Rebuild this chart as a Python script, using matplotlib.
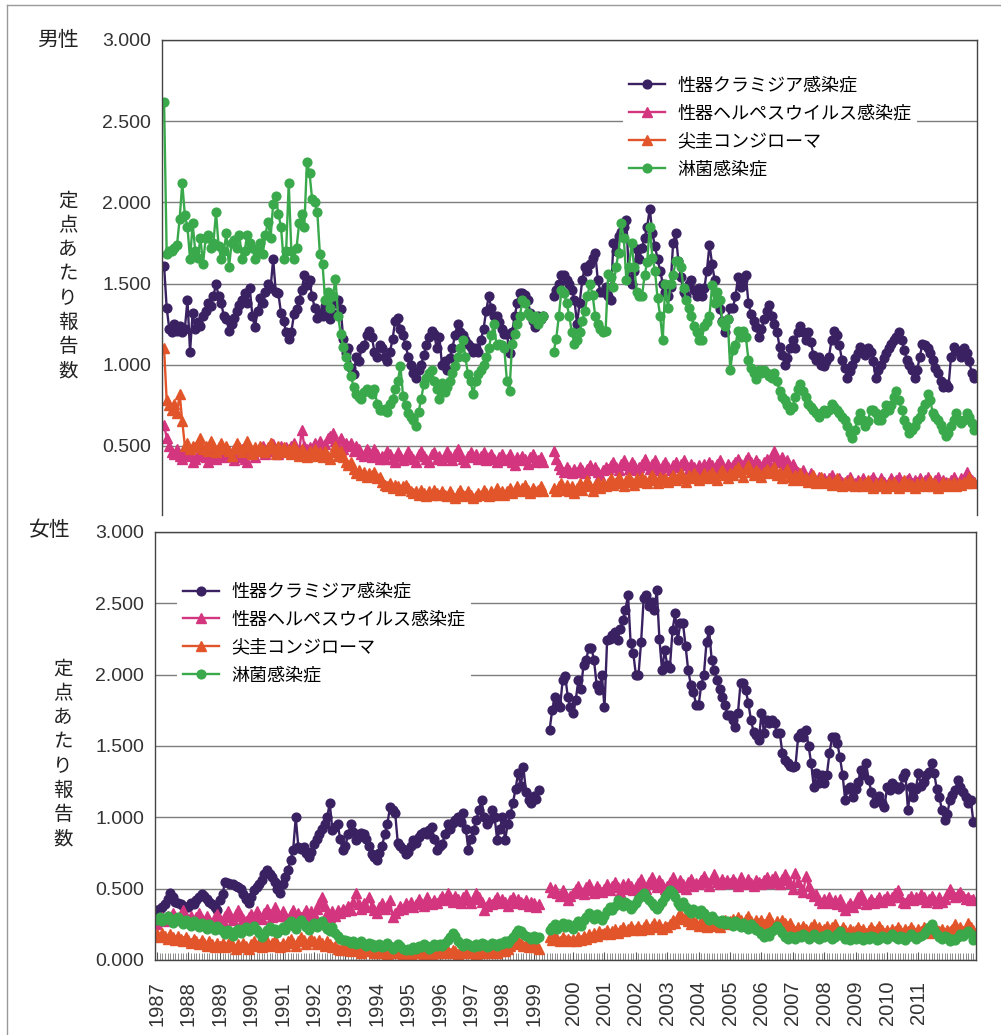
import numpy as np
import matplotlib
matplotlib.use('Agg')
import matplotlib.pyplot as plt
from matplotlib.lines import Line2D
from matplotlib.font_manager import FontProperties

JP = ['Noto Sans CJK JP', 'DejaVu Sans']
NUM = 'Liberation Sans'

# monthly reports per sentinel site
# *_old: Jan 1987 - Mar 1999 (old surveillance), *_new: Apr 1999 - Oct 2012

# ---- men ----
male_chlamydia_old = [
    1.61, 1.35, 1.22, 1.20, 1.25, 1.21, 1.24, 1.20, 1.22, 1.40, 1.08, 1.32,
    1.22, 1.26, 1.24, 1.30, 1.33, 1.38, 1.36, 1.42, 1.50, 1.42, 1.38, 1.30,
    1.28, 1.21, 1.25, 1.29, 1.33, 1.37, 1.40, 1.44, 1.38, 1.47, 1.30, 1.23,
    1.33, 1.41, 1.38, 1.45, 1.50, 1.47, 1.65, 1.45, 1.44, 1.32, 1.27, 1.20,
    1.16, 1.20, 1.31, 1.34, 1.40, 1.46, 1.55, 1.49, 1.52, 1.42, 1.35, 1.29,
    1.32, 1.30, 1.36, 1.30, 1.28, 1.31, 1.38, 1.40, 1.34, 1.16, 1.07, 1.10,
    0.98, 0.94, 1.05, 1.02, 1.10, 1.12, 1.18, 1.21, 1.17, 1.08, 1.05, 1.12,
    1.10, 1.05, 1.02, 1.08, 1.16, 1.27, 1.29, 1.22, 1.18, 1.12, 1.05, 1.00,
    0.95, 0.92, 0.97, 1.00, 1.06, 1.12, 1.17, 1.21, 1.19, 1.10, 1.17, 1.00,
    1.02, 0.97, 1.04, 1.10, 1.18, 1.25, 1.20, 1.18, 1.15, 1.13, 1.11, 1.08,
    1.10, 1.08, 1.15, 1.22, 1.33, 1.42, 1.35, 1.30, 1.30, 1.26, 1.22, 1.19,
    1.19, 1.07, 1.20, 1.30, 1.38, 1.44, 1.44, 1.43, 1.40, 1.32, 1.27, 1.23,
    1.30, 1.28, 1.30,
]
male_chlamydia_new = [
    1.42, 1.46, 1.50, 1.55, 1.55, 1.52, 1.50, 1.46, 1.40,
    1.25, 1.38, 1.52, 1.60, 1.58, 1.62, 1.66, 1.69, 1.52, 1.45, 1.45, 1.48,
    1.42, 1.40, 1.75, 1.70, 1.79, 1.82, 1.85, 1.89, 1.53, 1.50, 1.58, 1.71,
    1.65, 1.72, 1.78, 1.85, 1.96, 1.81, 1.73, 1.65, 1.58, 1.50, 1.45, 1.42,
    1.48, 1.75, 1.81, 1.64, 1.54, 1.45, 1.42, 1.50, 1.52, 1.46, 1.42, 1.47,
    1.42, 1.47, 1.58, 1.74, 1.62, 1.52, 1.39, 1.34, 1.27, 1.20, 1.28, 1.35,
    1.35, 1.42, 1.54, 1.48, 1.52, 1.55, 1.38, 1.31, 1.27, 1.23, 1.17, 1.22,
    1.28, 1.33, 1.37, 1.30, 1.25, 1.20, 1.11, 1.06, 1.00, 1.04, 1.10, 1.15,
    1.10, 1.20, 1.24, 1.20, 1.15, 1.20, 1.14, 1.06, 1.03, 1.05, 1.00, 0.99,
    1.02, 1.05, 1.15, 1.21, 1.18, 1.12, 1.03, 0.98, 0.92, 0.96, 1.00, 1.04,
    1.07, 1.11, 1.09, 1.06, 1.10, 1.08, 1.02, 0.92, 0.97, 1.00, 1.04, 1.07,
    1.10, 1.13, 1.15, 1.17, 1.20, 1.15, 1.09, 1.03, 1.00, 0.97, 0.92, 0.97,
    1.05, 1.13, 1.12, 1.10, 1.07, 1.03, 0.98, 0.95, 0.90, 0.86, 0.88, 0.86,
    1.05, 1.11, 1.09, 1.08, 1.05, 1.10, 1.07, 1.02, 0.95, 0.92,
]
male_herpes_old = [
    0.63, 0.55, 0.50, 0.46, 0.45, 0.48, 0.44, 0.42, 0.47, 0.44, 0.45, 0.40,
    0.42, 0.44, 0.47, 0.45, 0.43, 0.40, 0.44, 0.46, 0.42, 0.45, 0.44, 0.43,
    0.45, 0.47, 0.44, 0.41, 0.43, 0.45, 0.48, 0.42, 0.40, 0.46, 0.45, 0.43,
    0.47, 0.48, 0.50, 0.45, 0.47, 0.52, 0.51, 0.48, 0.45, 0.50, 0.47, 0.49,
    0.48, 0.50, 0.52, 0.47, 0.46, 0.60, 0.50, 0.48, 0.49, 0.47, 0.52, 0.50,
    0.53, 0.47, 0.51, 0.55, 0.56, 0.58, 0.53, 0.50, 0.55, 0.48, 0.52, 0.50,
    0.52, 0.47, 0.50, 0.48, 0.45, 0.44, 0.48, 0.46, 0.43, 0.48, 0.45, 0.42,
    0.44, 0.42, 0.47, 0.45, 0.42, 0.40, 0.46, 0.44, 0.41, 0.43, 0.47, 0.44,
    0.42, 0.40, 0.45, 0.47, 0.44, 0.42, 0.40, 0.45, 0.46, 0.42, 0.44, 0.41,
    0.43, 0.47, 0.44, 0.41, 0.45, 0.48, 0.44, 0.42, 0.40, 0.44, 0.46, 0.43,
    0.45, 0.42, 0.44, 0.46, 0.41, 0.43, 0.45, 0.42, 0.40, 0.43, 0.45, 0.41,
    0.42, 0.45, 0.40, 0.38, 0.43, 0.41, 0.44, 0.42, 0.39, 0.43, 0.45, 0.40,
    0.41, 0.43, 0.40,
]
male_herpes_new = [
    0.47, 0.42, 0.38, 0.36, 0.34, 0.37, 0.35, 0.33, 0.36,
    0.34, 0.37, 0.35, 0.33, 0.36, 0.38, 0.35, 0.37, 0.34, 0.32, 0.35, 0.37,
    0.36, 0.38, 0.40, 0.37, 0.35, 0.39, 0.41, 0.38, 0.36, 0.40, 0.38, 0.35,
    0.37, 0.39, 0.42, 0.38, 0.36, 0.39, 0.41, 0.37, 0.35, 0.38, 0.40, 0.37,
    0.35, 0.38, 0.40, 0.37, 0.39, 0.41, 0.38, 0.36, 0.39, 0.37, 0.35, 0.38,
    0.36, 0.39, 0.37, 0.40, 0.38, 0.36, 0.39, 0.41, 0.38, 0.36, 0.39, 0.37,
    0.38, 0.40, 0.42, 0.39, 0.37, 0.41, 0.43, 0.40, 0.38, 0.41, 0.39, 0.37,
    0.40, 0.42, 0.39, 0.44, 0.47, 0.42, 0.40, 0.43, 0.38, 0.41, 0.36, 0.39,
    0.36, 0.34, 0.32, 0.35, 0.31, 0.30, 0.33, 0.30, 0.28, 0.31, 0.29, 0.30,
    0.28, 0.30, 0.32, 0.29, 0.27, 0.30, 0.28, 0.26, 0.29, 0.31, 0.28, 0.27,
    0.29, 0.27, 0.30, 0.28, 0.26, 0.29, 0.31, 0.28, 0.27, 0.30, 0.28, 0.26,
    0.28, 0.30, 0.27, 0.29, 0.31, 0.28, 0.26, 0.29, 0.30, 0.27, 0.29, 0.28,
    0.30, 0.27, 0.29, 0.31, 0.28, 0.26, 0.29, 0.31, 0.27, 0.29, 0.28, 0.26,
    0.29, 0.31, 0.28, 0.27, 0.30, 0.29, 0.34, 0.30, 0.29, 0.28,
]
male_condyloma_old = [
    1.10, 0.78, 0.75, 0.72, 0.76, 0.70, 0.82, 0.65, 0.50, 0.52, 0.48, 0.50,
    0.49, 0.52, 0.55, 0.48, 0.50, 0.47, 0.53, 0.50, 0.46, 0.49, 0.52, 0.48,
    0.50, 0.47, 0.44, 0.48, 0.52, 0.49, 0.46, 0.50, 0.53, 0.48, 0.45, 0.49,
    0.47, 0.50, 0.48, 0.46, 0.49, 0.52, 0.48, 0.45, 0.50, 0.47, 0.49, 0.46,
    0.48, 0.45, 0.50, 0.47, 0.44, 0.48, 0.46, 0.43, 0.47, 0.45, 0.48, 0.44,
    0.46, 0.43, 0.47, 0.44, 0.42, 0.46, 0.50, 0.44, 0.47, 0.43, 0.40, 0.38,
    0.40, 0.36, 0.33, 0.35, 0.32, 0.34, 0.31, 0.33, 0.32, 0.34, 0.30, 0.31,
    0.28, 0.26, 0.25, 0.27, 0.24, 0.26, 0.25, 0.23, 0.25, 0.26, 0.24, 0.22,
    0.21, 0.22, 0.20, 0.23, 0.21, 0.19, 0.22, 0.20, 0.23, 0.21, 0.20, 0.22,
    0.20, 0.19, 0.22, 0.20, 0.18, 0.21, 0.23, 0.20, 0.19, 0.22, 0.20, 0.18,
    0.19, 0.21, 0.20, 0.23, 0.21, 0.19, 0.22, 0.20, 0.24, 0.21, 0.22, 0.20,
    0.22, 0.24, 0.21, 0.23, 0.25, 0.22, 0.24, 0.26, 0.23, 0.21, 0.24, 0.22,
    0.23, 0.25, 0.22,
]
male_condyloma_new = [
    0.24, 0.22, 0.25, 0.27, 0.23, 0.26, 0.22, 0.25, 0.21,
    0.24, 0.27, 0.23, 0.26, 0.29, 0.25, 0.22, 0.26, 0.28, 0.24, 0.27, 0.25,
    0.27, 0.30, 0.26, 0.28, 0.31, 0.27, 0.25, 0.29, 0.31, 0.28, 0.26, 0.30,
    0.28, 0.31, 0.29, 0.27, 0.30, 0.32, 0.29, 0.27, 0.31, 0.29, 0.30, 0.28,
    0.30, 0.32, 0.29, 0.31, 0.33, 0.30, 0.28, 0.32, 0.30, 0.33, 0.31, 0.29,
    0.31, 0.33, 0.30, 0.32, 0.34, 0.31, 0.29, 0.33, 0.35, 0.32, 0.30, 0.33,
    0.32, 0.35, 0.37, 0.34, 0.31, 0.36, 0.38, 0.34, 0.32, 0.35, 0.33, 0.31,
    0.34, 0.36, 0.33, 0.35, 0.37, 0.32, 0.34, 0.30, 0.33, 0.36, 0.31, 0.29,
    0.32, 0.30, 0.33, 0.29, 0.31, 0.28, 0.30, 0.32, 0.27, 0.29, 0.31, 0.28,
    0.27, 0.29, 0.26, 0.28, 0.30, 0.27, 0.25, 0.28, 0.26, 0.29, 0.27, 0.25,
    0.26, 0.28, 0.25, 0.27, 0.29, 0.26, 0.24, 0.27, 0.25, 0.28, 0.26, 0.24,
    0.27, 0.25, 0.28, 0.26, 0.24, 0.27, 0.29, 0.25, 0.27, 0.26, 0.24, 0.27,
    0.26, 0.28, 0.25, 0.27, 0.29, 0.25, 0.27, 0.24, 0.26, 0.28, 0.25, 0.27,
    0.26, 0.28, 0.25, 0.27, 0.26, 0.28, 0.27, 0.31, 0.27, 0.28,
]
male_gonorrhea_old = [
    2.62, 1.68, 1.70, 1.70, 1.72, 1.74, 1.90, 2.12, 1.92, 1.85, 1.65, 1.87,
    1.70, 1.66, 1.78, 1.62, 1.78, 1.80, 1.72, 1.75, 1.94, 1.73, 1.65, 1.70,
    1.81, 1.60, 1.75, 1.77, 1.72, 1.80, 1.65, 1.70, 1.80, 1.75, 1.72, 1.65,
    1.70, 1.75, 1.68, 1.80, 1.88, 1.78, 1.99, 2.04, 1.93, 1.85, 1.65, 1.70,
    2.12, 1.70, 1.65, 1.72, 1.87, 1.93, 1.85, 2.25, 2.18, 2.02, 2.00, 1.94,
    1.68, 1.62, 1.40, 1.45, 1.35, 1.42, 1.53, 1.30, 1.19, 1.11, 1.05, 0.99,
    0.93, 0.86, 0.82, 0.80, 0.79, 0.83, 0.85, 0.84, 0.82, 0.85, 0.76, 0.72,
    0.72, 0.73, 0.71, 0.76, 0.79, 0.85, 0.90, 0.99, 0.81, 0.75, 0.70, 0.68,
    0.66, 0.62, 0.71, 0.79, 0.88, 0.92, 0.95, 0.97, 0.90, 0.85, 0.79, 0.89,
    0.83, 0.86, 0.90, 0.95, 0.99, 1.05, 1.10, 1.15, 1.05, 0.94, 0.90, 0.82,
    0.90, 0.94, 0.97, 1.00, 1.05, 1.10, 1.18, 1.25, 1.12, 1.13, 1.12, 1.10,
    0.90, 0.84, 1.13, 1.19, 1.25, 1.30, 1.40, 1.38, 1.32, 1.30, 1.28, 1.30,
    1.25, 1.28, 1.30,
]
male_gonorrhea_new = [
    1.08, 1.16, 1.30, 1.46, 1.44, 1.38, 1.30, 1.20, 1.13,
    1.15, 1.20, 1.27, 1.33, 1.42, 1.50, 1.43, 1.30, 1.25, 1.22, 1.20, 1.21,
    1.56, 1.54, 1.48, 1.60, 1.69, 1.87, 1.78, 1.52, 1.60, 1.75, 1.60, 1.45,
    1.42, 1.42, 1.55, 1.63, 1.85, 1.66, 1.58, 1.41, 1.30, 1.15, 1.50, 1.35,
    1.50, 1.55, 1.64, 1.64, 1.60, 1.47, 1.40, 1.35, 1.30, 1.24, 1.20, 1.15,
    1.15, 1.24, 1.26, 1.30, 1.49, 1.38, 1.45, 1.40, 1.26, 1.24, 1.28, 0.97,
    1.09, 1.12, 1.21, 1.17, 1.21, 1.17, 1.03, 0.98, 0.95, 0.91, 0.97, 0.95,
    0.97, 0.95, 0.93, 0.92, 0.95, 0.90, 0.84, 0.80, 0.78, 0.75, 0.72, 0.74,
    0.80, 0.85, 0.88, 0.84, 0.80, 0.76, 0.74, 0.72, 0.70, 0.68, 0.70, 0.72,
    0.70, 0.72, 0.76, 0.74, 0.72, 0.70, 0.68, 0.66, 0.62, 0.58, 0.55, 0.60,
    0.66, 0.70, 0.66, 0.62, 0.65, 0.72, 0.72, 0.70, 0.66, 0.66, 0.70, 0.75,
    0.72, 0.75, 0.80, 0.84, 0.78, 0.72, 0.66, 0.62, 0.58, 0.60, 0.62, 0.66,
    0.68, 0.72, 0.76, 0.82, 0.78, 0.70, 0.68, 0.66, 0.63, 0.60, 0.56, 0.58,
    0.62, 0.66, 0.70, 0.66, 0.64, 0.66, 0.70, 0.68, 0.64, 0.60,
]

# ---- women ----
female_chlamydia_old = [
    0.35, 0.36, 0.37, 0.39, 0.43, 0.47, 0.44, 0.41, 0.40, 0.39, 0.38, 0.37,
    0.37, 0.40, 0.39, 0.42, 0.44, 0.46, 0.45, 0.43, 0.41, 0.39, 0.37, 0.35,
    0.42, 0.46, 0.55, 0.54, 0.53, 0.53, 0.52, 0.51, 0.50, 0.46, 0.43, 0.40,
    0.44, 0.49, 0.51, 0.53, 0.56, 0.60, 0.63, 0.60, 0.58, 0.55, 0.50, 0.47,
    0.53, 0.58, 0.63, 0.70, 0.77, 1.00, 0.79, 0.78, 0.79, 0.75, 0.72, 0.76,
    0.81, 0.85, 0.88, 0.92, 0.95, 1.00, 1.10, 0.91, 0.93, 0.95, 0.85, 0.77,
    0.80, 0.88, 0.95, 0.90, 0.84, 0.86, 0.89, 0.88, 0.85, 0.80, 0.74, 0.72,
    0.70, 0.75, 0.80, 0.88, 0.95, 1.07, 1.05, 1.03, 0.82, 0.80, 0.78, 0.74,
    0.76, 0.80, 0.84, 0.82, 0.86, 0.88, 0.90, 0.88, 0.91, 0.93, 0.85, 0.77,
    0.80, 0.81, 0.88, 0.95, 0.92, 0.96, 0.98, 1.00, 0.97, 1.03, 0.92, 0.77,
    0.85, 0.91, 0.98, 1.05, 1.12, 1.00, 0.95, 0.98, 1.05, 1.00, 0.84, 0.92,
    1.00, 0.84, 0.95, 1.02, 1.10, 1.20, 1.31, 1.22, 1.35, 1.18, 1.12, 1.10,
    1.15, 1.13, 1.19,
]
female_chlamydia_new = [
    1.61, 1.75, 1.84, 1.80, 1.77, 1.96, 1.99, 1.84, 1.77,
    1.73, 1.82, 1.96, 1.90, 2.07, 2.10, 2.19, 2.19, 2.10, 1.93, 1.89, 2.00,
    1.77, 2.24, 2.25, 2.28, 2.30, 2.24, 2.32, 2.38, 2.45, 2.56, 2.22, 2.15,
    2.00, 2.00, 2.23, 2.54, 2.56, 2.48, 2.51, 2.45, 2.59, 2.25, 2.03, 2.17,
    2.07, 2.05, 2.31, 2.43, 2.24, 2.36, 2.36, 2.20, 2.03, 1.93, 1.88, 1.79,
    1.79, 1.93, 2.00, 2.23, 2.31, 2.10, 2.03, 1.96, 1.90, 1.84, 1.79, 1.72,
    1.72, 1.68, 1.63, 1.73, 1.94, 1.94, 1.89, 1.80, 1.68, 1.60, 1.58, 1.54,
    1.73, 1.59, 1.68, 1.66, 1.68, 1.66, 1.59, 1.59, 1.45, 1.40, 1.38, 1.36,
    1.35, 1.36, 1.56, 1.59, 1.56, 1.61, 1.50, 1.38, 1.21, 1.31, 1.24, 1.30,
    1.24, 1.30, 1.45, 1.56, 1.56, 1.52, 1.42, 1.30, 1.12, 1.20, 1.21, 1.14,
    1.20, 1.25, 1.33, 1.30, 1.38, 1.26, 1.18, 1.10, 1.12, 1.15, 1.10, 1.07,
    1.21, 1.19, 1.24, 1.22, 1.20, 1.21, 1.28, 1.31, 1.05, 1.21, 1.14, 1.20,
    1.31, 1.22, 1.25, 1.30, 1.32, 1.38, 1.31, 1.20, 1.14, 1.05, 0.98, 1.02,
    1.12, 1.16, 1.19, 1.26, 1.21, 1.18, 1.14, 1.10, 1.12, 0.97,
]
female_herpes_old = [
    0.25, 0.28, 0.30, 0.27, 0.31, 0.29, 0.33, 0.30, 0.28, 0.32, 0.35, 0.30,
    0.28, 0.31, 0.27, 0.30, 0.33, 0.29, 0.27, 0.31, 0.28, 0.26, 0.30, 0.32,
    0.29, 0.27, 0.31, 0.34, 0.30, 0.28, 0.32, 0.35, 0.31, 0.29, 0.27, 0.30,
    0.32, 0.30, 0.34, 0.31, 0.29, 0.33, 0.36, 0.32, 0.30, 0.37, 0.33, 0.31,
    0.34, 0.31, 0.29, 0.32, 0.35, 0.31, 0.33, 0.30, 0.32, 0.35, 0.31, 0.34,
    0.32, 0.36, 0.40, 0.44, 0.38, 0.33, 0.30, 0.34, 0.31, 0.35, 0.33, 0.36,
    0.34, 0.38, 0.35, 0.41, 0.47, 0.39, 0.36, 0.40, 0.37, 0.44, 0.38, 0.35,
    0.33, 0.37, 0.40, 0.36, 0.38, 0.42, 0.30, 0.33, 0.35, 0.38, 0.36, 0.40,
    0.38, 0.41, 0.37, 0.39, 0.43, 0.40, 0.38, 0.44, 0.41, 0.39, 0.42, 0.40,
    0.43, 0.45, 0.42, 0.47, 0.44, 0.41, 0.45, 0.43, 0.40, 0.44, 0.46, 0.42,
    0.40, 0.43, 0.47, 0.44, 0.41, 0.35, 0.38, 0.41, 0.39, 0.42, 0.44, 0.40,
    0.43, 0.41, 0.38, 0.42, 0.44, 0.40, 0.43, 0.41, 0.39, 0.42, 0.38, 0.41,
    0.40, 0.37, 0.39,
]
female_herpes_new = [
    0.51, 0.48, 0.50, 0.47, 0.45, 0.49, 0.46, 0.42, 0.45,
    0.47, 0.50, 0.52, 0.48, 0.46, 0.51, 0.53, 0.49, 0.47, 0.52, 0.50, 0.48,
    0.50, 0.53, 0.49, 0.52, 0.55, 0.51, 0.48, 0.53, 0.50, 0.54, 0.52, 0.49,
    0.51, 0.54, 0.57, 0.52, 0.50, 0.55, 0.58, 0.53, 0.51, 0.56, 0.53, 0.50,
    0.52, 0.55, 0.58, 0.54, 0.51, 0.56, 0.53, 0.50, 0.55, 0.57, 0.52, 0.54,
    0.53, 0.56, 0.59, 0.55, 0.52, 0.57, 0.60, 0.55, 0.53, 0.57, 0.54, 0.56,
    0.54, 0.57, 0.55, 0.52, 0.58, 0.55, 0.53, 0.57, 0.54, 0.52, 0.56, 0.55,
    0.53, 0.56, 0.58, 0.54, 0.57, 0.59, 0.55, 0.53, 0.57, 0.60, 0.56, 0.54,
    0.50, 0.61, 0.55, 0.50, 0.48, 0.59, 0.52, 0.47, 0.45, 0.46, 0.42, 0.40,
    0.43, 0.41, 0.44, 0.40, 0.42, 0.39, 0.43, 0.38, 0.35, 0.38, 0.40, 0.37,
    0.40, 0.44, 0.46, 0.42, 0.39, 0.41, 0.43, 0.40, 0.42, 0.44, 0.41, 0.43,
    0.45, 0.42, 0.44, 0.47, 0.49, 0.44, 0.41, 0.40, 0.43, 0.45, 0.42, 0.44,
    0.43, 0.46, 0.44, 0.41, 0.43, 0.45, 0.42, 0.40, 0.44, 0.41, 0.43, 0.46,
    0.50, 0.47, 0.44, 0.46, 0.48, 0.45, 0.43, 0.44, 0.42, 0.43,
]
female_condyloma_old = [
    0.18, 0.16, 0.19, 0.17, 0.15, 0.18, 0.16, 0.14, 0.17, 0.15, 0.13, 0.16,
    0.14, 0.12, 0.15, 0.13, 0.11, 0.14, 0.12, 0.10, 0.13, 0.11, 0.09, 0.12,
    0.10, 0.12, 0.09, 0.11, 0.13, 0.10, 0.08, 0.11, 0.09, 0.12, 0.10, 0.08,
    0.11, 0.13, 0.10, 0.12, 0.09, 0.11, 0.13, 0.10, 0.12, 0.14, 0.11, 0.09,
    0.12, 0.10, 0.13, 0.15, 0.12, 0.10, 0.13, 0.16, 0.14, 0.11, 0.13, 0.15,
    0.13, 0.11, 0.14, 0.12, 0.10, 0.13, 0.11, 0.09, 0.10, 0.08, 0.07, 0.09,
    0.07, 0.08, 0.06, 0.07, 0.09, 0.07, 0.05, 0.07, 0.06, 0.08, 0.06, 0.05,
    0.06, 0.05, 0.07, 0.06, 0.04, 0.06, 0.05, 0.07, 0.06, 0.05, 0.04, 0.06,
    0.05, 0.04, 0.06, 0.05, 0.07, 0.05, 0.04, 0.06, 0.05, 0.04, 0.06, 0.05,
    0.06, 0.05, 0.07, 0.06, 0.05, 0.07, 0.06, 0.04, 0.06, 0.05, 0.07, 0.06,
    0.05, 0.06, 0.04, 0.06, 0.05, 0.07, 0.06, 0.05, 0.07, 0.06, 0.05, 0.06,
    0.07, 0.06, 0.08, 0.10, 0.12, 0.11, 0.13, 0.12, 0.10, 0.11, 0.09, 0.10,
    0.09, 0.11, 0.08,
]
female_condyloma_new = [
    0.16, 0.14, 0.17, 0.15, 0.13, 0.16, 0.14, 0.15, 0.13,
    0.15, 0.13, 0.16, 0.14, 0.17, 0.15, 0.18, 0.16, 0.19, 0.17, 0.20, 0.18,
    0.19, 0.21, 0.18, 0.20, 0.22, 0.19, 0.21, 0.23, 0.20, 0.22, 0.24, 0.21,
    0.22, 0.24, 0.21, 0.23, 0.25, 0.22, 0.24, 0.26, 0.23, 0.25, 0.22, 0.24,
    0.23, 0.25, 0.28, 0.26, 0.30, 0.33, 0.29, 0.31, 0.27, 0.25, 0.28, 0.26,
    0.24, 0.27, 0.25, 0.23, 0.26, 0.24, 0.27, 0.25, 0.23, 0.26, 0.28, 0.25,
    0.27, 0.29, 0.26, 0.30, 0.28, 0.25, 0.29, 0.31, 0.27, 0.25, 0.28, 0.26,
    0.28, 0.25, 0.27, 0.30, 0.26, 0.24, 0.27, 0.25, 0.28, 0.26, 0.24, 0.26,
    0.22, 0.20, 0.23, 0.21, 0.24, 0.22, 0.20, 0.23, 0.25, 0.21, 0.23, 0.20,
    0.22, 0.24, 0.21, 0.23, 0.25, 0.22, 0.20, 0.23, 0.21, 0.19, 0.22, 0.20,
    0.21, 0.23, 0.20, 0.22, 0.19, 0.21, 0.23, 0.20, 0.22, 0.24, 0.21, 0.19,
    0.21, 0.19, 0.22, 0.20, 0.23, 0.21, 0.19, 0.22, 0.20, 0.23, 0.21, 0.19,
    0.22, 0.20, 0.23, 0.21, 0.19, 0.22, 0.24, 0.21, 0.20, 0.22, 0.19, 0.21,
    0.20, 0.22, 0.25, 0.21, 0.23, 0.20, 0.22, 0.26, 0.23, 0.21,
]
female_gonorrhea_old = [
    0.28, 0.30, 0.27, 0.29, 0.31, 0.28, 0.26, 0.29, 0.30, 0.27, 0.25, 0.28,
    0.26, 0.24, 0.27, 0.25, 0.23, 0.26, 0.24, 0.22, 0.25, 0.23, 0.21, 0.24,
    0.22, 0.20, 0.18, 0.21, 0.19, 0.17, 0.20, 0.22, 0.19, 0.21, 0.23, 0.20,
    0.22, 0.24, 0.21, 0.19, 0.16, 0.18, 0.21, 0.23, 0.20, 0.22, 0.19, 0.21,
    0.23, 0.21, 0.25, 0.27, 0.24, 0.22, 0.26, 0.28, 0.25, 0.23, 0.21, 0.24,
    0.26, 0.23, 0.25, 0.27, 0.24, 0.22, 0.20, 0.23, 0.19, 0.17, 0.15, 0.14,
    0.14, 0.13, 0.12, 0.13, 0.11, 0.12, 0.13, 0.11, 0.10, 0.12, 0.11, 0.09,
    0.10, 0.11, 0.09, 0.10, 0.12, 0.10, 0.08, 0.09, 0.11, 0.10, 0.08, 0.07,
    0.08, 0.07, 0.09, 0.08, 0.10, 0.09, 0.11, 0.10, 0.08, 0.09, 0.11, 0.10,
    0.11, 0.10, 0.12, 0.14, 0.16, 0.19, 0.17, 0.13, 0.11, 0.10, 0.12, 0.11,
    0.10, 0.09, 0.11, 0.10, 0.12, 0.11, 0.09, 0.10, 0.12, 0.11, 0.10, 0.12,
    0.11, 0.13, 0.12, 0.14, 0.16, 0.19, 0.21, 0.20, 0.18, 0.17, 0.16, 0.15,
    0.17, 0.15, 0.16,
]
female_gonorrhea_new = [
    0.21, 0.23, 0.25, 0.22, 0.24, 0.26, 0.23, 0.25, 0.24,
    0.22, 0.25, 0.27, 0.24, 0.28, 0.30, 0.33, 0.31, 0.29, 0.32, 0.30, 0.28,
    0.31, 0.34, 0.37, 0.35, 0.38, 0.42, 0.40, 0.38, 0.41, 0.39, 0.36, 0.38,
    0.40, 0.43, 0.45, 0.47, 0.44, 0.42, 0.40, 0.38, 0.36, 0.38, 0.41, 0.44,
    0.46, 0.49, 0.47, 0.44, 0.40, 0.38, 0.41, 0.37, 0.35, 0.33, 0.36, 0.34,
    0.32, 0.35, 0.33, 0.30, 0.28, 0.31, 0.29, 0.27, 0.26, 0.28, 0.25, 0.27,
    0.26, 0.24, 0.27, 0.25, 0.23, 0.26, 0.24, 0.22, 0.25, 0.23, 0.21, 0.20,
    0.18, 0.16, 0.19, 0.17, 0.20, 0.22, 0.24, 0.21, 0.19, 0.16, 0.15, 0.17,
    0.16, 0.15, 0.17, 0.16, 0.18, 0.17, 0.15, 0.16, 0.18, 0.16, 0.15, 0.17,
    0.16, 0.18, 0.17, 0.15, 0.16, 0.18, 0.20, 0.17, 0.15, 0.16, 0.14, 0.16,
    0.15, 0.17, 0.16, 0.14, 0.16, 0.15, 0.17, 0.16, 0.14, 0.15, 0.17, 0.16,
    0.15, 0.17, 0.18, 0.16, 0.15, 0.17, 0.16, 0.14, 0.16, 0.18, 0.17, 0.15,
    0.16, 0.17, 0.18, 0.20, 0.23, 0.25, 0.21, 0.18, 0.16, 0.15, 0.17, 0.16,
    0.13, 0.15, 0.14, 0.16, 0.18, 0.17, 0.19, 0.20, 0.18, 0.14,
]

disease_names = ['性器クラミジア感染症', '性器ヘルペスウイルス感染症', '尖圭コンジローマ', '淋菌感染症']
colors = ['#3a2162', '#d3357f', '#e2552a', '#3aa94b']
markers = ['o', '^', '^', 'o']
year_labels = [str(y) for y in range(1987, 2012)]

NEW_START = 150          # Apr 1999: three blank months after the old series
year_pos = [12 * k for k in range(13)] + [NEW_START + 9 + 12 * k for k in range(12)]

W, H = 1001, 1035
fig = plt.figure(figsize=(W / 100, H / 100), dpi=100)

ax_m = fig.add_axes([162 / W, 1 - 515 / H, 815 / W, 475 / H])
ax_f = fig.add_axes([155 / W, 1 - 960 / H, 821 / W, 428 / H])

male = [(male_chlamydia_old, male_chlamydia_new), (male_herpes_old, male_herpes_new),
        (male_condyloma_old, male_condyloma_new), (male_gonorrhea_old, male_gonorrhea_new)]
female = [(female_chlamydia_old, female_chlamydia_new), (female_herpes_old, female_herpes_new),
          (female_condyloma_old, female_condyloma_new), (female_gonorrhea_old, female_gonorrhea_new)]


def draw_panel(ax, series):
    for (old, new), name, c, m in zip(series, disease_names, colors, markers):
        ms = 6.3 if m == 'o' else 6.8
        kw = dict(color=c, marker=m, ms=ms, mec=c, mfc=c, lw=1.7)
        ax.plot(np.arange(len(old)), old, label=name, **kw)
        ax.plot(NEW_START + np.arange(len(new)), new, **kw)
    ax.set_xlim(-0.8, 313)
    ax.set_yticks(np.arange(0, 3.01, 0.5))
    ax.set_yticklabels(['%.3f' % v for v in np.arange(0, 3.01, 0.5)],
                       fontfamily=NUM, fontsize=14)
    ax.yaxis.grid(True, color='#7d7d7d', lw=1.0)
    ax.set_axisbelow(True)
    ax.tick_params(axis='y', length=0, pad=8, colors='#333333')
    for s in ax.spines.values():
        s.set_color('#444444')
        s.set_linewidth(1.0)


draw_panel(ax_m, male)
ax_m.set_ylim(0.074, 3.0)
ax_m.spines['bottom'].set_visible(False)
ax_m.set_xticks([])

draw_panel(ax_f, female)
ax_f.set_ylim(0, 3.0)
ax_f.set_xticks(year_pos)
ax_f.set_xticklabels(year_labels, rotation=90, fontfamily=NUM, fontsize=14.5, color='#333333')
ax_f.set_xticks(np.arange(0, 313), minor=True)
ax_f.tick_params(axis='x', which='major', direction='in', length=6, pad=15, color='#555555')
ax_f.tick_params(axis='x', which='minor', direction='in', length=5, width=0.6, color='#777777')

leg_font = FontProperties(family=JP, size=13)
for ax, anchor in ((ax_m, (0.555, 0.953)), (ax_f, (0.016, 0.915))):
    handles, labels = ax.get_legend_handles_labels()
    leg = ax.legend(handles[:4], labels[:4], loc='upper left', bbox_to_anchor=anchor,
                    prop=leg_font, frameon=True, facecolor='white', edgecolor='none',
                    framealpha=1, fancybox=False, numpoints=1, handlelength=2.0,
                    handletextpad=0.7, labelspacing=0.55, borderpad=0.3)
    leg.set_zorder(5)

# panel captions and vertical y labels
fig.text(58 / W, 1 - 40 / H, '男性', family=JP, fontsize=15, ha='center', va='center', color='#222222')
fig.text(50 / W, 1 - 530 / H, '女性', family=JP, fontsize=15, ha='center', va='center', color='#222222')
ylab = '\n'.join('定点あたり報告数')
fig.text(68 / W, 1 - 286 / H, ylab, family=JP, fontsize=14, ha='center', va='center',
         linespacing=1.2, color='#222222')
fig.text(63 / W, 1 - 754 / H, ylab, family=JP, fontsize=14, ha='center', va='center',
         linespacing=1.2, color='#222222')

# thin outer frame
fig.add_artist(Line2D([7 / W, 7 / W], [0, 1 - 5 / H], transform=fig.transFigure, color='#999999', lw=1))
fig.add_artist(Line2D([7 / W, 1], [1 - 5 / H, 1 - 5 / H], transform=fig.transFigure, color='#999999', lw=1))

fig.savefig('out.png', dpi=100, facecolor='white')
